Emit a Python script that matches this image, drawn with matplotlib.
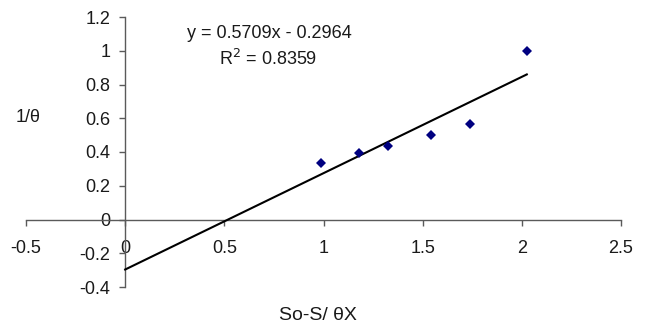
import matplotlib
matplotlib.use("Agg")
import matplotlib.pyplot as plt
import numpy as np

plt.rcParams['font.family'] = ['Liberation Sans', 'DejaVu Sans']

# Data
x_vals = [0.985, 1.177, 1.323, 1.541, 1.737, 2.025]
y_vals = [0.332, 0.396, 0.437, 0.498, 0.566, 0.997]
slope = 0.5709
intercept = -0.2964
r2 = 0.8359
x_ticks = [-0.5, 0, 0.5, 1, 1.5, 2, 2.5]
x_tick_labels = ["-0.5", "0", "0.5", "1", "1.5", "2", "2.5"]
y_ticks = [-0.4, -0.2, 0, 0.2, 0.4, 0.6, 0.8, 1, 1.2]
y_tick_labels = ["-0.4", "-0.2", "0", "0.2", "0.4", "0.6", "0.8", "1", "1.2"]

W, H = 645, 327
fig = plt.figure(figsize=(W / 100, H / 100), dpi=100)
ax = fig.add_axes([26 / W, 1 - 287 / H, (621 - 26) / W, (287 - 17) / H])
ax.set_xlim(-0.5, 2.5)
ax.set_ylim(-0.4, 1.2)

axis_color = '#5a5a5a'
for s in ['top', 'right']:
    ax.spines[s].set_visible(False)
ax.spines['left'].set_position(('data', 0))
ax.spines['bottom'].set_position(('data', 0))
for s in ['left', 'bottom']:
    ax.spines[s].set_color(axis_color)
    ax.spines[s].set_linewidth(1.0)

fs = 13
ax.set_xticks(x_ticks)
ax.set_xticklabels(x_tick_labels)
ax.set_yticks(y_ticks)
ax.set_yticklabels(y_tick_labels)
ax.tick_params(axis='x', direction='out', length=4, width=1, color=axis_color,
               labelsize=fs, pad=10.5, labelcolor='#1a1a1a')
ax.tick_params(axis='y', direction='out', length=4, width=1, color=axis_color,
               labelsize=fs, pad=6.5, labelcolor='#1a1a1a')

# Trendline
xl = np.array([0, max(x_vals)])
ax.plot(xl, slope * xl + intercept, color='black', lw=1.5, zorder=3,
        clip_on=False)
# Data points
ax.plot(x_vals, y_vals, linestyle='none', marker='D', markersize=5.2,
        color='#000080', markeredgewidth=0, zorder=4, clip_on=False)

fig.text(269 / W, 1 - 33 / H, f"y = {slope}x - {abs(intercept)}",
         ha='center', va='center', fontsize=fs, color='#1a1a1a')
fig.text(268 / W, 1 - 59 / H, f"R$^2$ = {r2}",
         ha='center', va='center', fontsize=fs, color='#1a1a1a')
fig.text(28 / W, 1 - 118 / H, "1/θ", ha='center', va='center',
         fontsize=fs, color='#1a1a1a')
fig.text(318 / W, 1 - 316 / H, "So-S/ θX", ha='center', va='center',
         fontsize=14, color='#1a1a1a')

fig.savefig("out.png", dpi=100)
